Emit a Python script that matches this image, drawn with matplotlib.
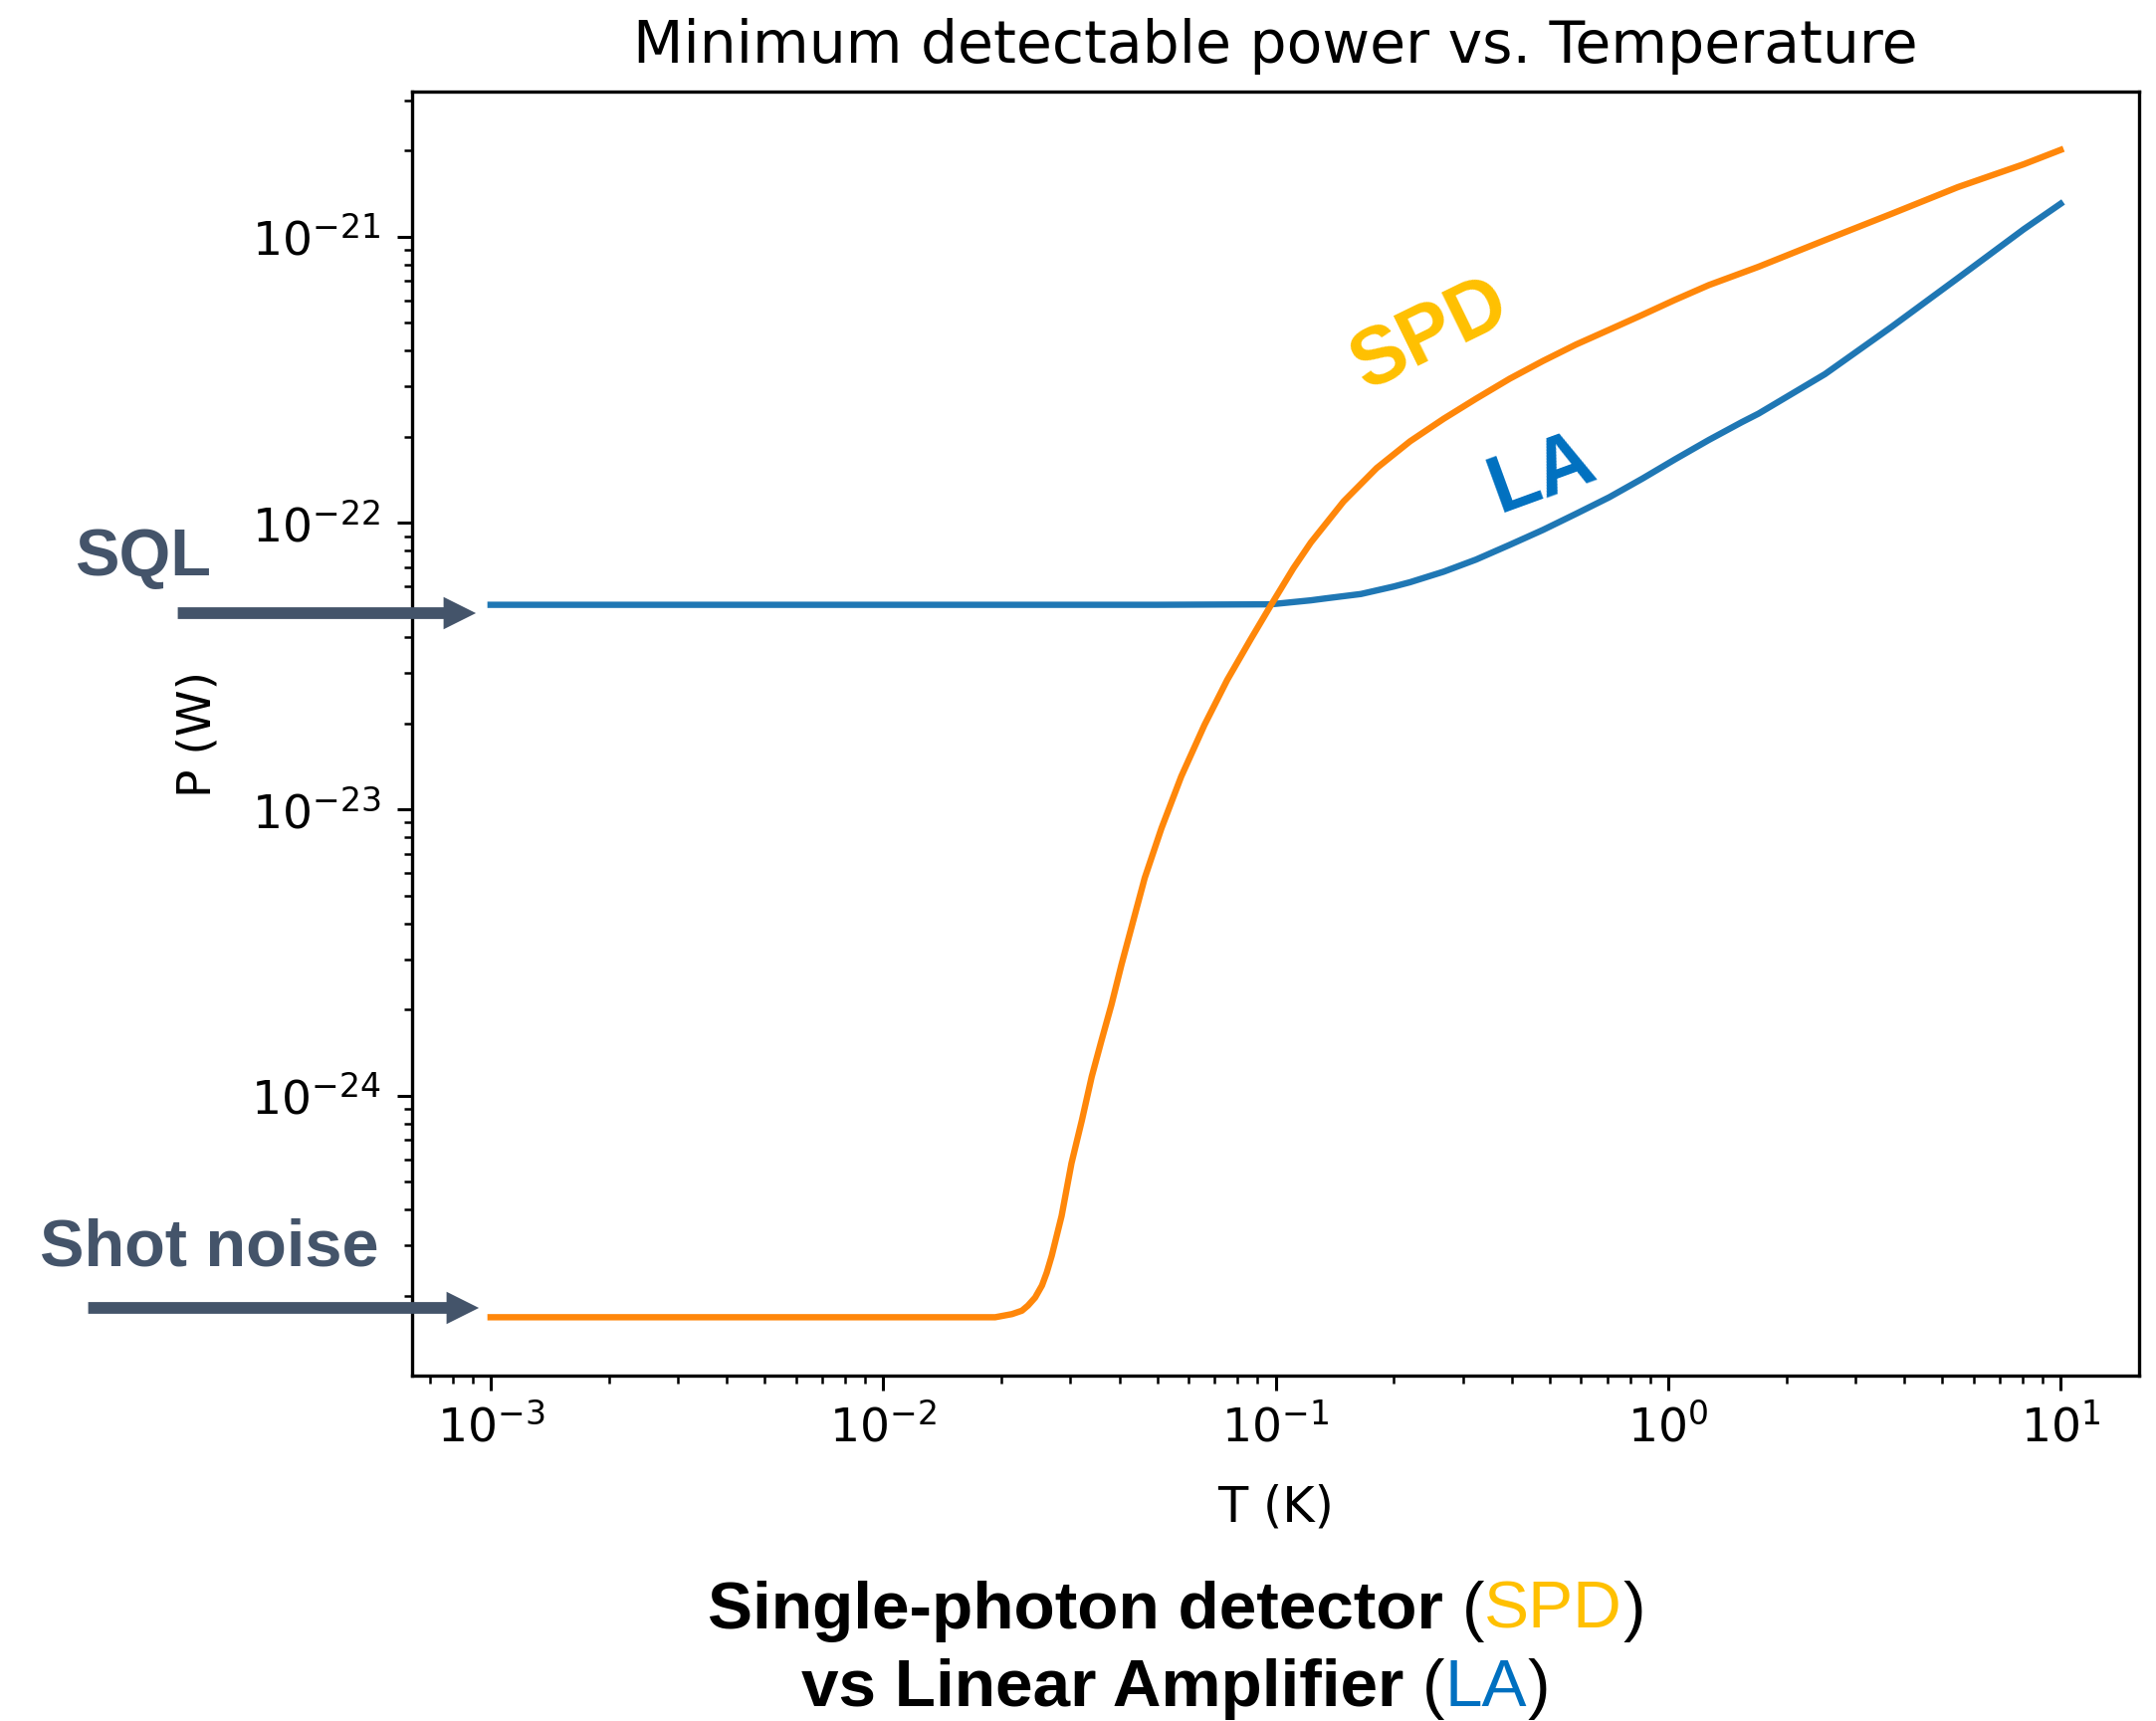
import matplotlib
matplotlib.use('Agg')
import matplotlib.pyplot as plt
from matplotlib.patches import FancyArrow

# Minimum detectable power P (W) vs temperature T (K)
# single-photon detector (SPD)
spd_T = [1e-3, 0.0193, 0.0213, 0.02258, 0.0234, 0.0244, 0.0254, 0.02612,
         0.0269, 0.0285, 0.0302, 0.0321, 0.0340, 0.0360, 0.0382, 0.0405,
         0.0464, 0.0512, 0.0575, 0.0659, 0.0753, 0.0865, 0.0972, 0.111, 0.123,
         0.149, 0.181, 0.220, 0.268, 0.324, 0.395, 0.480, 0.582, 0.708, 0.860,
         1.04, 1.27, 1.70, 2.51, 3.71, 5.47, 8.06, 10.0]
spd_P = [1.683e-25, 1.683e-25, 1.726e-25, 1.774e-25, 1.849e-25, 1.972e-25,
         2.173e-25, 2.410e-25, 2.761e-25, 3.802e-25, 5.808e-25, 8.204e-25,
         1.164e-24, 1.556e-24, 2.084e-24, 2.871e-24, 5.754e-24, 8.590e-24,
         1.303e-23, 1.972e-23, 2.831e-23, 3.936e-23, 5.152e-23, 6.950e-23,
         8.551e-23, 1.189e-22, 1.556e-22, 1.928e-22, 2.312e-22, 2.716e-22,
         3.192e-22, 3.681e-22, 4.198e-22, 4.732e-22, 5.333e-22, 6.012e-22,
         6.776e-22, 7.852e-22, 9.727e-22, 1.202e-21, 1.489e-21, 1.791e-21,
         2.009e-21]

# linear amplifier (LA)
la_T = [1e-3, 0.01, 0.05, 0.0972, 0.123, 0.135, 0.165, 0.200, 0.220, 0.268,
        0.324, 0.395, 0.480, 0.582, 0.708, 0.860, 1.04, 1.27, 1.54, 1.70, 2.51,
        3.71, 5.47, 8.06, 10.0]
la_P = [5.18e-23, 5.18e-23, 5.18e-23, 5.20e-23, 5.37e-23, 5.46e-23, 5.65e-23,
        6.00e-23, 6.21e-23, 6.76e-23, 7.45e-23, 8.39e-23, 9.46e-23, 1.076e-22,
        1.230e-22, 1.429e-22, 1.667e-22, 1.950e-22, 2.249e-22, 2.410e-22,
        3.311e-22, 4.842e-22, 7.161e-22, 1.062e-21, 1.303e-21]

x_ticks = [1e-3, 1e-2, 1e-1, 1e0, 1e1]
y_ticks = [1e-24, 1e-23, 1e-22, 1e-21]

W, H, DPI = 2166, 1729, 200
SLATE = '#44546a'

fig = plt.figure(figsize=(W / DPI, H / DPI), dpi=DPI)
ax = fig.add_axes([414 / W, 347 / H, (2149 - 414) / W, (1382 - 92) / H])

ax.loglog(la_T, la_P, color='#1f77b4', lw=2.3)
ax.loglog(spd_T, spd_P, color='#ff870a', lw=2.3)
ax.set_xticks(x_ticks)
ax.set_yticks(y_ticks)

ax.set_title('Minimum detectable power vs. Temperature', fontsize=21, pad=10.5)
ax.set_xlabel('T (K)', fontsize=17.8)
ax.set_ylabel('P (W)', fontsize=17)
ax.xaxis.set_label_coords(0.5, -0.084)
ax.yaxis.set_label_coords(-0.111, 0.5)

ax.tick_params(which='major', labelsize=17, length=5.4, width=1.1)
ax.tick_params(which='minor', length=2.9, width=0.9)
ax.tick_params(axis='x', which='major', pad=5)
ax.tick_params(axis='y', which='major', pad=6)
for sp in ax.spines.values():
    sp.set_linewidth(1.2)

# curve labels
fig.text(1437 / W, 1 - 337 / H, 'SPD', fontsize=29, fontweight='bold',
         color='#ffc000', family='Liberation Sans', rotation=26,
         rotation_mode='anchor', ha='center', va='center')
fig.text(1550 / W, 1 - 477 / H, 'LA', fontsize=29, fontweight='bold',
         color='#0070c0', family='Liberation Sans', rotation=20,
         rotation_mode='anchor', ha='center', va='center')

# limit markers on the left
fig.text(144 / W, 1 - 578 / H, 'SQL', fontsize=24, fontweight='bold',
         color=SLATE, family='Liberation Sans', ha='center', va='baseline')
fig.text(210 / W, 1 - 1272 / H, 'Shot noise', fontsize=24, fontweight='bold',
         color=SLATE, family='Liberation Sans', ha='center', va='baseline')


def add_arrow(x0, x1, y):
    # pixel positions measured from the top-left corner
    arr = FancyArrow(x0 / DPI, (H - y) / DPI, (x1 - x0) / DPI, 0,
                     width=9 / DPI, head_width=28 / DPI, head_length=28 / DPI,
                     length_includes_head=True, color=SLATE,
                     transform=fig.dpi_scale_trans)
    fig.patches.append(arr)


add_arrow(180, 475, 616)
add_arrow(90, 478, 1314)

# caption with coloured abbreviations
renderer = fig.canvas.get_renderer()


def text_width(s, size, weight):
    t = fig.text(0.5, 0.5, s, fontsize=size, fontweight=weight,
                 family='Liberation Sans')
    w = t.get_window_extent(renderer).width
    t.remove()
    return w


def caption_line(pieces, xc, ybase, size=24.3):
    gap = 0.278 * size * DPI / 72
    widths = [gap if s == ' ' else text_width(s, size, weight)
              for s, color, weight in pieces]
    x = xc - sum(widths) / 2
    for (s, color, weight), w in zip(pieces, widths):
        if s != ' ':
            fig.text(x / W, 1 - ybase / H, s, fontsize=size, color=color,
                     fontweight=weight, family='Liberation Sans',
                     ha='left', va='baseline')
        x += w


caption_line([('Single-photon detector', 'black', 'bold'), (' ', None, None),
              ('(', 'black', 'normal'), ('SPD', '#ffc000', 'normal'),
              (')', 'black', 'normal')], 1182, 1636)
caption_line([('vs Linear Amplifier', 'black', 'bold'), (' ', None, None),
              ('(', 'black', 'normal'), ('LA', '#0070c0', 'normal'),
              (')', 'black', 'normal')], 1181, 1714)

fig.savefig('out.png', dpi=DPI)
